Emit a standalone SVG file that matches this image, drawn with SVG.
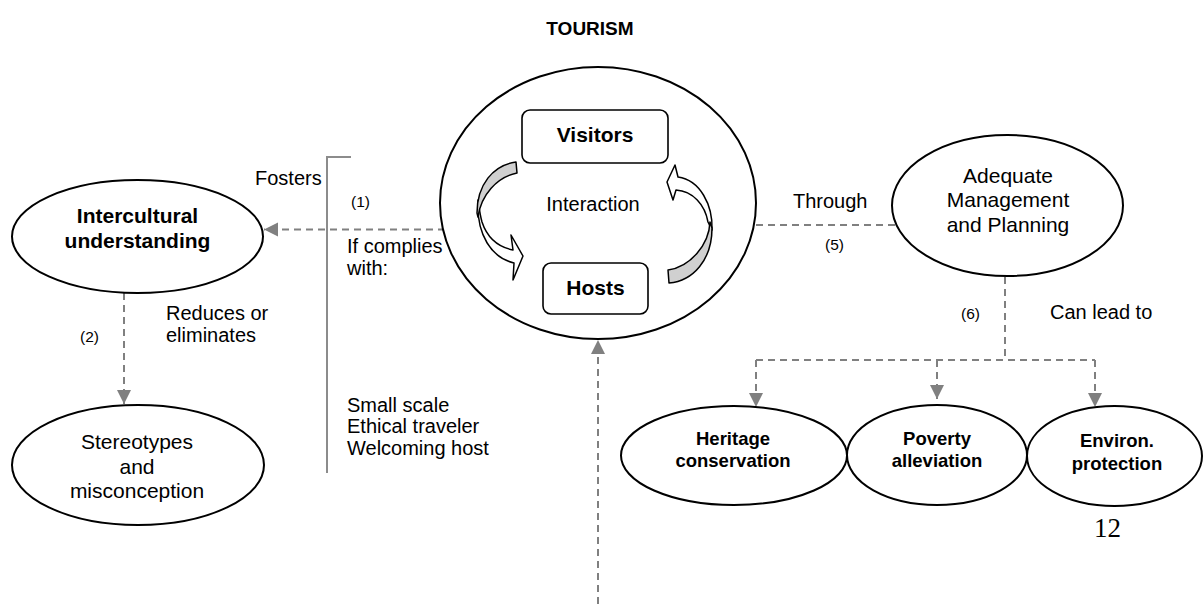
<svg xmlns="http://www.w3.org/2000/svg" width="1203" height="604" viewBox="0 0 1203 604">
<style>
text{font-family:"Liberation Sans",Arial,sans-serif;fill:#000}
.b{font-weight:bold}
.m{text-anchor:middle}
.t20{font-size:20px}
.t21{font-size:21px}
.sm{font-size:15.5px}
.node{fill:#fff;stroke:#000;stroke-width:2}
.box{fill:#fff;stroke:#000;stroke-width:1.6}
.dash{fill:none;stroke:#808080;stroke-width:2;stroke-dasharray:7 5}
.arr{stroke:#000;stroke-width:1.5;stroke-linejoin:round}
</style>
<defs>
<marker id="ah" viewBox="0 0 14 14" markerUnits="userSpaceOnUse" markerWidth="14" markerHeight="15" refX="14" refY="7" orient="auto">
<path d="M0,0 L14,7 L0,14 Z" fill="#808080" stroke="none"/>
</marker>
</defs>
<rect width="1203" height="604" fill="#fff"/>
<text x="590" y="35" class="b m" font-size="19">TOURISM</text>

<g id="connectors">
<path class="dash" d="M577,229.5 L264,229.5" marker-end="url(#ah)"/>
<path class="dash" d="M124,293 L124,404" marker-end="url(#ah)"/>
<path class="dash" d="M598,604 L598,340" marker-end="url(#ah)"/>
<path class="dash" d="M756,225 L895,225"/>
<path class="dash" d="M1005,277 L1005,360 M756,360 L1095,360"/>
<path class="dash" d="M756,360 L756,407" marker-end="url(#ah)"/>
<path class="dash" d="M937,360 L937,399" marker-end="url(#ah)"/>
<path class="dash" d="M1095,360 L1095,407" marker-end="url(#ah)"/>
<path d="M351,157 L327,157 L327,473" fill="none" stroke="#8c8c8c" stroke-width="2"/>
</g>

<g id="labels">
<text x="255" y="185" class="t20">Fosters</text>
<text x="351" y="207" class="sm">(1)</text>
<text x="347" y="253" class="t20">If complies</text>
<text x="347" y="275" class="t20">with:</text>
<text x="166" y="320" class="t20">Reduces or</text>
<text x="166" y="342" class="t20">eliminates</text>
<text x="80" y="342" class="sm">(2)</text>
<text x="347" y="412" class="t20">Small scale</text>
<text x="347" y="433" class="t20">Ethical traveler</text>
<text x="347" y="455" class="t20">Welcoming host</text>
<text x="793" y="208" class="t20">Through</text>
<text x="825" y="250" class="sm">(5)</text>
<text x="961" y="319" class="sm">(6)</text>
<text x="1050" y="319" class="t20">Can lead to</text>
<text x="1094" y="537" font-family="Liberation Serif,'Times New Roman',serif" font-size="27" style="font-family:'Liberation Serif','Times New Roman',serif">12</text>
</g>

<g id="tourism">
<ellipse class="node" cx="598" cy="203" rx="158" ry="136"/>
<text x="593" y="211" class="m t20">Interaction</text>
<g id="arrow-left">
<path class="arr" fill="#fff" d="M478,200 C476,235 492,258 514,263 L513,280 L523,256 L511,235 L513,250 C498,247 487,237 482,222 C480,215 479,207 478,200 Z"/>
<path class="arr" fill="#d0d0d0" d="M516,162 C493,165 477,185 477,213 L478,217 C481,195 497,177 517,173 Z"/>
</g>
<g id="arrow-right">
<path class="arr" fill="#fff" d="M712,230 C713,205 700,180 678,177 L675,165 L667,182 L673,200 L676,190 C693,191 705,205 708,222 Z"/>
<path class="arr" fill="#d0d0d0" d="M668,270 L669,283 C693,281 712,260 712,228 L710,222 C709,245 690,267 668,270 Z"/>
</g>
</g>

<g id="visitors">
<rect class="box" x="522" y="110" width="146" height="53" rx="8"/>
<text x="595" y="142" class="b m t21">Visitors</text>
</g>
<g id="hosts">
<rect class="box" x="543" y="263" width="105" height="51" rx="8"/>
<text x="595.5" y="295" class="b m t21">Hosts</text>
</g>

<g id="intercultural">
<ellipse class="node" cx="137.5" cy="236.5" rx="125.5" ry="56.5"/>
<text x="137.5" y="223" class="b m t21">Intercultural</text>
<text x="137.5" y="248" class="b m t21">understanding</text>
</g>

<g id="stereotypes">
<ellipse class="node" cx="138" cy="465" rx="126" ry="60"/>
<text x="137" y="449" class="m t21">Stereotypes</text>
<text x="137" y="474" class="m t21">and</text>
<text x="137" y="498" class="m t21">misconception</text>
</g>

<g id="management">
<ellipse class="node" cx="1007.5" cy="205.5" rx="115.5" ry="70.5"/>
<text x="1008" y="183" class="m t21">Adequate</text>
<text x="1008" y="207" class="m t21">Management</text>
<text x="1008" y="232" class="m t21">and Planning</text>
</g>

<g id="heritage">
<ellipse class="node" cx="734" cy="455.5" rx="113" ry="49.5"/>
<text x="733" y="445" class="b m" font-size="18.5">Heritage</text>
<text x="733" y="467" class="b m" font-size="18.5">conservation</text>
</g>
<g id="poverty">
<ellipse class="node" cx="937" cy="455" rx="90" ry="50"/>
<text x="937" y="445" class="b m" font-size="18.5">Poverty</text>
<text x="937" y="467" class="b m" font-size="18.5">alleviation</text>
</g>
<g id="environ">
<ellipse class="node" cx="1114.5" cy="456" rx="87.5" ry="50"/>
<text x="1117" y="447" class="b m" font-size="18.5">Environ.</text>
<text x="1117" y="470" class="b m" font-size="18.5">protection</text>
</g>
</svg>
